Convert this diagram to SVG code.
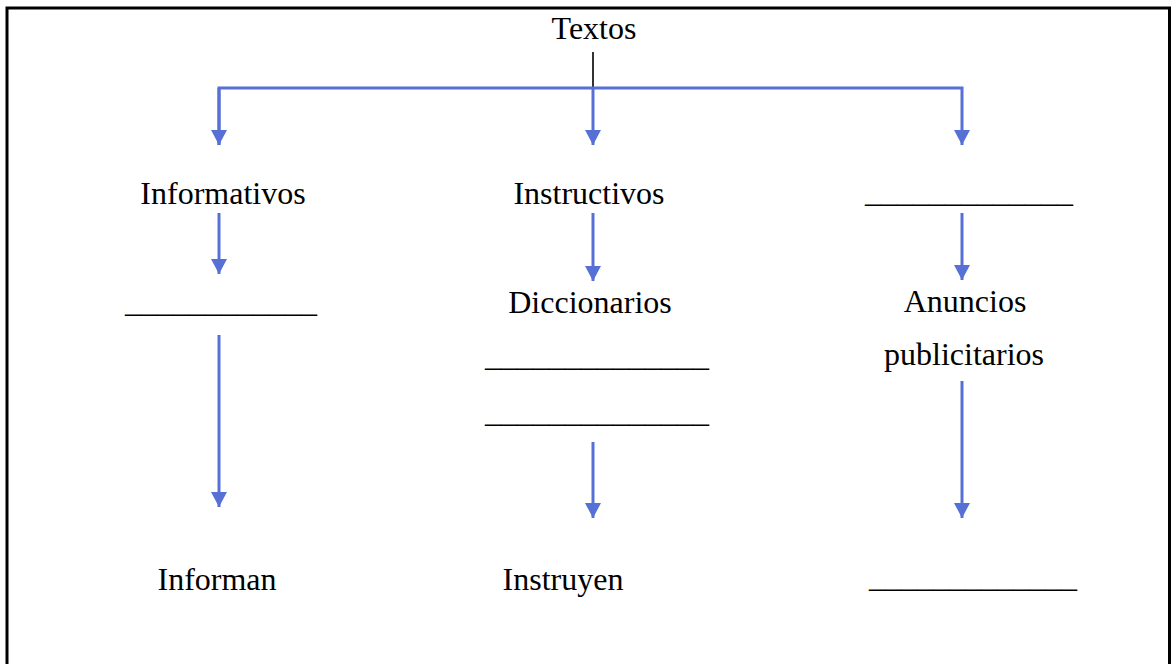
<svg xmlns="http://www.w3.org/2000/svg" width="1171" height="664" viewBox="0 0 1171 664">
<style>
text{font-family:"Liberation Serif","Times New Roman",serif;font-size:32px;fill:#000}
.c{stroke:#5670D5;stroke-width:3;fill:none}
</style>
<defs>
<marker id="ah" viewBox="0 0 15 16" refX="15" refY="8" markerWidth="15" markerHeight="16" markerUnits="userSpaceOnUse" orient="auto">
<path d="M0,0 L15,8 L0,16 z" fill="#5670D5"/>
</marker>
</defs>
<rect width="1171" height="664" fill="#fff"/>
<path d="M7,664 V8 H1169.5 V664" fill="none" stroke="#000" stroke-width="3"/>
<g id="connectors">
<line x1="593" y1="52" x2="593" y2="88" stroke="#333" stroke-width="2"/>
<path class="c" d="M219,145 V88 H962 V145" marker-end="url(#ah)"/>
<path class="c" d="M219,88 V145" marker-end="url(#ah)"/>
<path class="c" d="M593,88 V145" marker-end="url(#ah)"/>
<path class="c" d="M219,213 V274" marker-end="url(#ah)"/>
<path class="c" d="M219,335 V507" marker-end="url(#ah)"/>
<path class="c" d="M593,213 V281" marker-end="url(#ah)"/>
<path class="c" d="M593,442 V518" marker-end="url(#ah)"/>
<path class="c" d="M962,213 V280" marker-end="url(#ah)"/>
<path class="c" d="M962,381 V518" marker-end="url(#ah)"/>
</g>
<g id="textos"><text x="594" y="39" text-anchor="middle">Textos</text></g>
<g id="informativos"><text x="223" y="204" text-anchor="middle">Informativos</text></g>
<g id="instructivos"><text x="589" y="204" text-anchor="middle">Instructivos</text></g>
<g id="blank-right-top"><text x="865" y="202">_____________</text></g>
<g id="blank-left"><text x="125" y="312">____________</text></g>
<g id="diccionarios"><text x="590" y="313" text-anchor="middle">Diccionarios</text></g>
<g id="blank-mid-1"><text x="485" y="366">______________</text></g>
<g id="blank-mid-2"><text x="485" y="422">______________</text></g>
<g id="anuncios"><text x="965" y="312" text-anchor="middle">Anuncios</text><text x="964" y="365" text-anchor="middle">publicitarios</text></g>
<g id="informan"><text x="217" y="590" text-anchor="middle">Informan</text></g>
<g id="instruyen"><text x="563" y="590" text-anchor="middle">Instruyen</text></g>
<g id="blank-right-bottom"><text x="869" y="587">_____________</text></g>
</svg>
